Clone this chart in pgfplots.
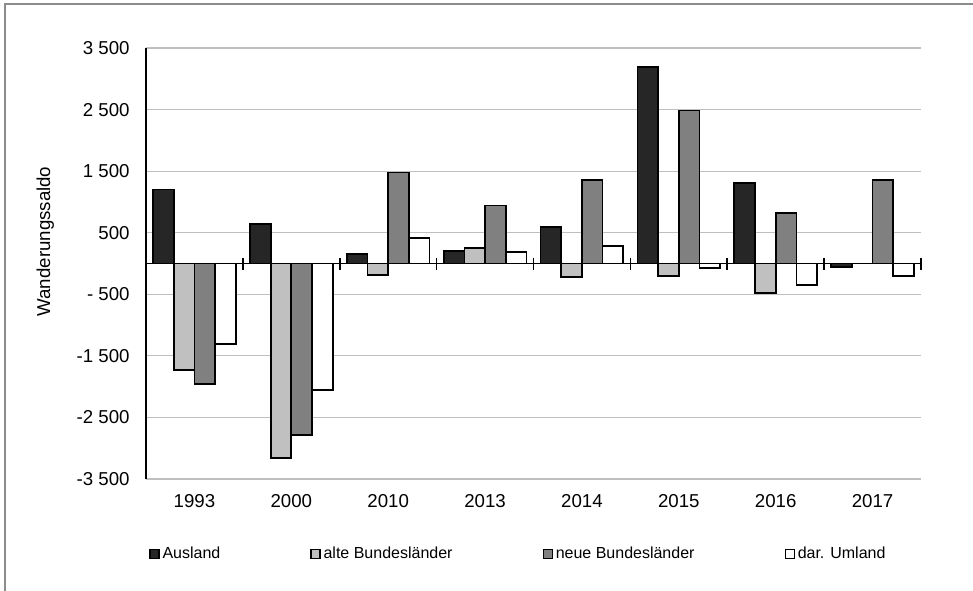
\documentclass[border=0pt]{standalone}
\usepackage{pgfplots}
\pgfplotsset{compat=1.18}
\usepackage{fontspec}
\setmainfont{Liberation Sans}
\definecolor{cAus}{HTML}{262626}
\definecolor{cAlt}{HTML}{C0C0C0}
\definecolor{cNeu}{HTML}{808080}
\definecolor{cUml}{HTML}{FFFFFF}
\definecolor{gridc}{HTML}{BFBFBF}
\definecolor{framec}{HTML}{8C8C8C}
\pgfplotsset{sqlegend/.style={legend image code/.code={\draw[##1,draw=black,line width=0.9pt] (0pt,-3.4pt) rectangle (6.75pt,3.4pt);}}}
\begin{document}
\begin{tikzpicture}
\useasboundingbox[fill=white] (0pt,0pt) rectangle (729.75pt,-443.25pt);
\draw[framec, line width=1.1pt] (3.75pt,-443.25pt) -- (3.75pt,-3pt) -- (729.75pt,-3pt);
\begin{axis}[
  at={(109.5pt,-359.25pt)}, anchor=south west,
  scale only axis, width=581.25pt, height=323.25pt,
  xmin=-0.5, xmax=7.5, ymin=-3500, ymax=3500,
  enlargelimits=false,
  axis lines=left,
  axis line style={-},
  x axis line style={draw=none},
  y axis line style={black, line width=1.1pt},
  xtick={0,...,7},
  xticklabels={1993,2000,2010,2013,2014,2015,2016,2017},
  ytick={-3500,-2500,-1500,-500,500,1500,2500,3500},
  yticklabels={-3~500,-2~500,-1~500,-~500,500,1~500,2~500,3~500},
  major tick length=0pt,
  ymajorgrids, grid style={gridc, line width=0.9pt},
  tick label style={font=\fontsize{14}{16}\selectfont},
  xticklabel style={yshift=-8pt},
  yticklabel style={xshift=-8.8pt},
  ylabel={Wanderungssaldo},
  ylabel style={at={(axis description cs:-0.130,0.551)}, anchor=center, font=\fontsize{14}{16}\selectfont},
  ybar=0pt, bar width=15.5pt,
  legend style={at={(axis description cs:0.004,-0.174)}, anchor=west, draw=none, fill=none,
    inner sep=0pt, font=\fontsize{12}{14}\selectfont,
    legend columns=4,
    nodes={inner sep=0pt},
    /tikz/every odd column/.append style={column sep=2.25pt},
    /tikz/every even column/.append style={column sep=67.5pt}},
]
\addplot[draw=black, line width=1.3pt, fill=cAus, sqlegend] coordinates {(0,1200) (1,645) (2,155) (3,200) (4,597) (5,3190) (6,1310) (7,-60)};
\addplot[draw=black, line width=1.3pt, fill=cAlt, sqlegend] coordinates {(0,-1730) (1,-3160) (2,-187) (3,246) (4,-224) (5,-208) (6,-479) (7,0)};
\addplot[draw=black, line width=1.3pt, fill=cNeu, sqlegend] coordinates {(0,-1960) (1,-2790) (2,1480) (3,944) (4,1360) (5,2486) (6,825) (7,1360)};
\addplot[draw=black, line width=1.3pt, fill=cUml, sqlegend] coordinates {(0,-1312) (1,-2053) (2,409) (3,187) (4,289) (5,-68) (6,-354) (7,-198)};
\legend{Ausland,alte Bundesländer,neue Bundesländer,dar. Umland}
\end{axis}
\begin{axis}[
  at={(109.5pt,-359.25pt)}, anchor=south west,
  scale only axis, width=581.25pt, height=323.25pt,
  xmin=-0.5, xmax=7.5, ymin=-3500, ymax=3500,
  enlargelimits=false,
  axis x line=middle, axis y line=none,
  x axis line style={-, black, line width=1.2pt},
  xtick={-0.5,0.5,...,7.5}, xticklabels={},
  ytick=\empty,
  major tick length=9pt, tick align=center,
  xtick style={black, line width=1.2pt},
]
\end{axis}
\end{tikzpicture}
\end{document}
